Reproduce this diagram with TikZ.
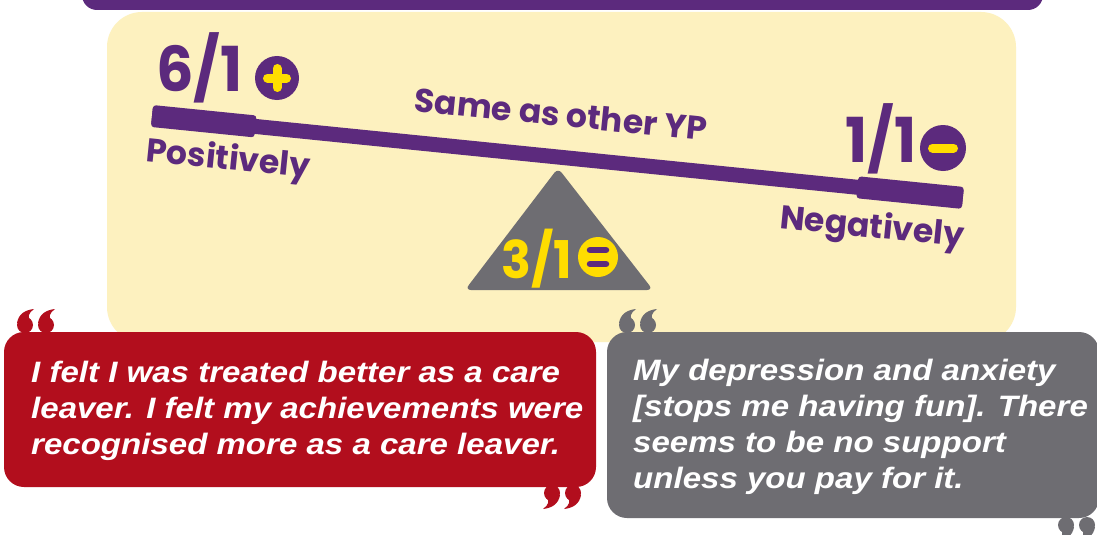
\documentclass[tikz,border=0pt]{standalone}
\usepackage{fontspec}
\setmainfont{Liberation Sans}
\newfontfamily\scorefont{Poppins}
\newfontfamily\digitfont[FakeStretch=0.95]{Poppins}
\newfontfamily\quotefont[FakeStretch=1.12]{Liberation Sans}
\definecolor{ypurple}{HTML}{5C2A7D}
\definecolor{ycream}{HTML}{FDF1BF}
\definecolor{yyellow}{HTML}{FFDD00}
\definecolor{yred}{HTML}{B20E1D}
\definecolor{ygrey}{HTML}{6E6D72}
\newcommand{\quotemarks}[3]{
\foreach \dx in {0,21} {
\fill[#1, shift={#2}, rotate=#3] (\dx,0) circle (8);
\fill[#1, shift={#2}, rotate=#3] (\dx-8,-2) .. controls (\dx-6.5,-11) and (\dx,-15) .. (\dx+9,-16) .. controls (\dx+3.5,-12) and (\dx+2,-8) .. (\dx+6,-4) -- cycle;
}
}

\begin{document}
\begin{tikzpicture}[x=1pt, y=-1pt,
% boxes
panel/.style={rounded corners=20},
% the seesaw
beam/.style={fill=ypurple},
beamend/.style={beam, rounded corners=3},
% scores and their signs
score/.style={font=\digitfont\bfseries\fontsize{62}{62}\selectfont, text=ypurple, inner sep=0, anchor=base west},
badge/.style={circle, inner sep=0, minimum size=44},
signbar/.style={line width=9, line cap=round},
beamtext/.style={font=\scorefont\bfseries\fontsize{33}{33}\selectfont, text=ypurple, inner sep=0, rotate=-5.77},
% quotes
quotetext/.style={font=\quotefont\bfseries\itshape\fontsize{29.5}{36}\selectfont, text=white, align=left, inner sep=0, anchor=north west}
]

\useasboundingbox (0,0) rectangle (1097,535);
\clip (0,0) rectangle (1097,535);
\fill[white] (0,0) rectangle (1097,535);

% BACKGROUND
\fill[ypurple, rounded corners=15] (82,-30) rectangle (1043,10);
\fill[ycream, rounded corners=35] (107,12) rectangle (1016,342);

% SEESAW
\fill[ygrey, rounded corners=6] (558,168) -- (653,290) -- (465,290) -- cycle;
\begin{scope}[shift={(152,116)}, rotate=-5.77]
\fill[beam] (0,-7.5) rectangle (815,7.5);
\fill[beamend] (0,-11) rectangle (104,11);
\fill[beamend] (709,-11) rectangle (815,11);
\end{scope}

% labels along the beam
\path
(228,161) node[beamtext] (pos) {Positively}
(561,114) node[beamtext] (same) {Same as other YP}
(872,229) node[beamtext] (neg) {Negatively}
;

% scores
\node[score] (posval) at (156,92) {6/1};
\node[badge, fill=ypurple] (plusc) at (277,78) {};
\draw[signbar, yyellow] ([xshift=-9.5]plusc.center) -- ([xshift=9.5]plusc.center);
\draw[signbar, yyellow] ([yshift=-9.5]plusc.center) -- ([yshift=9.5]plusc.center);

\node[score] (negval) at (845,162) {1/1};
\node[badge, fill=ypurple, minimum size=46] (minusc) at (943,148) {};
\draw[signbar, yyellow] ([xshift=-10.5]minusc.center) -- ([xshift=10.5]minusc.center);

\node[score, text=yyellow, font=\digitfont\bfseries\fontsize{52}{52}\selectfont] (sameval) at (501,278) {3/1};
\node[badge, fill=yyellow, minimum size=40] (equalc) at (598,257) {};
\draw[signbar, ypurple, line width=6.5] ([xshift=-8,yshift=7]equalc.center) -- ([xshift=8,yshift=7]equalc.center);
\draw[signbar, ypurple, line width=6.5] ([xshift=-8,yshift=-7]equalc.center) -- ([xshift=8,yshift=-7]equalc.center);

% QUOTES
\fill[yred, panel] (4,332) rectangle (596,487);
\quotemarks{yred}{(25,325)}{0}
\quotemarks{yred}{(573,493)}{180}
\node[quotetext] (redquote) at (31,361) {I felt I was treated better as a care\\leaver. I felt my achievements were\\recognised more as a care leaver.};

\fill[ygrey, panel] (607,332) rectangle (1099,518);
\quotemarks{ygrey}{(627,325)}{0}
\quotemarks{ygrey}{(1087,525)}{180}
\node[quotetext] (greyquote) at (633,359) {My depression and anxiety\\{[stops me having fun]}. There\\seems to be no support\\unless you pay for it.};

\end{tikzpicture}
\end{document}
